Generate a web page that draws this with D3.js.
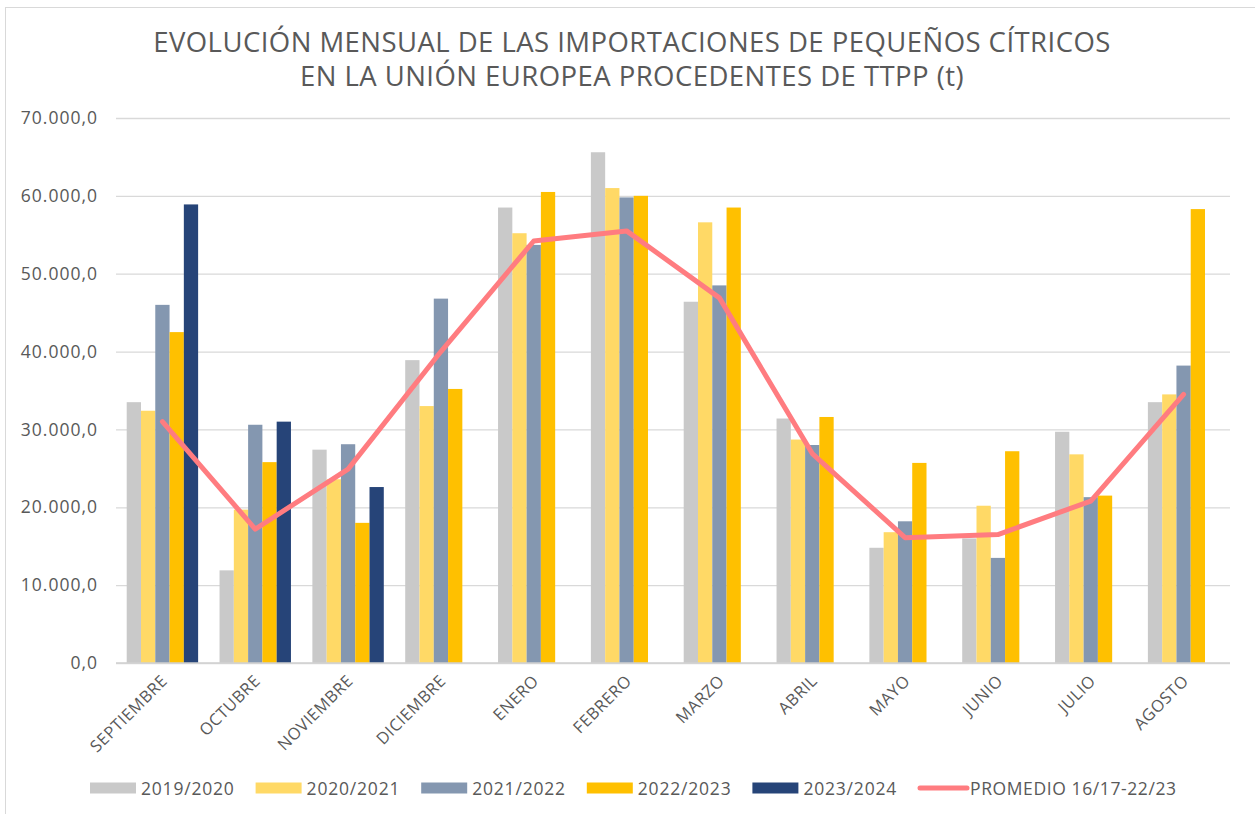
<!DOCTYPE html>
<html>
<head>
<meta charset="utf-8">
<script src="https://cdn.jsdelivr.net/npm/d3@7"></script>
<style>
  body { margin: 0; background: #fff; }
  svg text { font-family: "Open Sans", sans-serif; fill: #595959; }
</style>
</head>
<body>
<div class="canvas"></div>
<script>
// data (t)
var months = ['SEPTIEMBRE', 'OCTUBRE', 'NOVIEMBRE', 'DICIEMBRE', 'ENERO', 'FEBRERO',
  'MARZO', 'ABRIL', 'MAYO', 'JUNIO', 'JULIO', 'AGOSTO'];
var seasons = ['2019/2020', '2020/2021', '2021/2022', '2022/2023', '2023/2024'];

var v2019 = [33500, 11900, 27400, 38900, 58500, 65600, 46400, 31400, 14800, 16000, 29700, 33500];
var v2020 = [32400, 19700, 23600, 33000, 55200, 61000, 56600, 28700, 16800, 20200, 26800, 34500];
var v2021 = [46000, 30600, 28100, 46800, 53700, 59800, 48500, 28000, 18200, 13500, 21300, 38200];
var v2022 = [42500, 25800, 18000, 35200, 60500, 60000, 58500, 31600, 25700, 27200, 21500, 58300];
var v2023 = [58900, 31000, 22600, null, null, null, null, null, null, null, null, null];
var promedio = [31000, 17200, 24900, 40000, 54200, 55500, 46900, 26900, 16100, 16500, 20800, 34500];
var promedioLabel = 'PROMEDIO 16/17-22/23';

var yTicks = [0, 10000, 20000, 30000, 40000, 50000, 60000, 70000];
var colors = ['#C9C9C9', '#FFD966', '#8497B0', '#FFC000', '#264478'];
var lineColor = '#FF7C80';

var series = [v2019, v2020, v2021, v2022, v2023];

var width = 1255, height = 814;
var svg = d3.select('.canvas').append('svg')
  .attr('width', width).attr('height', height);

// chart frame (only top/left edges are inside the picture)
svg.append('rect')
  .attr('x', 5.5).attr('y', 7.5)
  .attr('width', 1260).attr('height', 820)
  .attr('fill', 'none').attr('stroke', '#D9D9D9');

// title
var title = svg.append('text')
  .attr('text-anchor', 'middle')
  .style('font-size', '27.5px')
  .style('letter-spacing', '0.45px');
title.append('tspan').attr('x', 632).attr('y', 52)
  .text('EVOLUCIÓN MENSUAL DE LAS IMPORTACIONES DE PEQUEÑOS CÍTRICOS');
title.append('tspan').attr('x', 632).attr('y', 86)
  .text('EN LA UNIÓN EUROPEA PROCEDENTES DE TTPP (t)');

// scales
var x0 = d3.scaleBand()
  .domain(months)
  .range([116, 1230])
  .paddingInner(1.5 / 6.5)
  .paddingOuter(0.75 / 6.5);

var x1 = d3.scaleBand()
  .domain(seasons)
  .range([0, x0.bandwidth()]);

var y = d3.scaleLinear()
  .domain([0, 70000])
  .range([663, 118]);

var fmt = function (d) {
  return d3.format(',.1f')(d).replace(/,/g, 'X').replace('.', ',').replace(/X/g, '.');
};

// gridlines + y labels
var yAxis = svg.append('g')
  .attr('transform', 'translate(116,0)')
  .call(d3.axisLeft(y).tickValues(yTicks).tickSize(-(1230 - 116)).tickFormat(fmt).tickPadding(18));
yAxis.select('.domain').remove();
yAxis.selectAll('.tick line').attr('stroke', '#D9D9D9').attr('stroke-width', 1.3);
yAxis.selectAll('.tick text')
  .style('font-size', '17.5px')
  .style('letter-spacing', '1px')
  .attr('fill', '#595959');

// bars
var groups = svg.append('g').selectAll('g')
  .data(months)
  .enter()
  .append('g')
  .attr('transform', function (d) { return 'translate(' + x0(d) + ',0)'; });

groups.selectAll('rect')
  .data(function (m, i) {
    return seasons.map(function (s, k) { return { s: s, k: k, v: series[k][i] }; })
      .filter(function (d) { return d.v != null; });
  })
  .enter()
  .append('rect')
  .attr('x', function (d) { return x1(d.s); })
  .attr('width', x1.bandwidth())
  .attr('y', function (d) { return y(d.v); })
  .attr('height', function (d) { return y(0) - y(d.v); })
  .attr('fill', function (d) { return colors[d.k]; });

// baseline
svg.append('line')
  .attr('x1', 116).attr('x2', 1230)
  .attr('y1', y(0)).attr('y2', y(0))
  .attr('stroke', '#D0D0D0').attr('stroke-width', 1.5);

// promedio line
var line = d3.line()
  .x(function (d, i) { return x0(months[i]) + x0.bandwidth() / 2; })
  .y(function (d) { return y(d); });

svg.append('path')
  .datum(promedio)
  .attr('d', line)
  .attr('fill', 'none')
  .attr('stroke', lineColor)
  .attr('stroke-width', 5)
  .attr('stroke-linejoin', 'round')
  .attr('stroke-linecap', 'round');

// x labels
svg.append('g').selectAll('text')
  .data(months)
  .enter()
  .append('text')
  .attr('text-anchor', 'end')
  .style('font-size', '16.5px')
  .style('letter-spacing', '0.5px')
  .attr('transform', function (d) {
    return 'translate(' + (x0(d) + x0.bandwidth() / 2 + 6) + ',682) rotate(-45)';
  })
  .text(function (d) { return d; });

// legend
var legend = svg.append('g');
var legendY = 788;
seasons.forEach(function (s, i) {
  var lx = 90 + i * 165.6;
  legend.append('rect')
    .attr('x', lx).attr('y', legendY - 5.5)
    .attr('width', 46).attr('height', 11)
    .attr('fill', colors[i]);
  legend.append('text')
    .attr('x', lx + 51).attr('y', legendY + 6.5)
    .style('font-size', '17.5px')
    .style('letter-spacing', '0.8px')
    .text(s);
});
var px = 90 + 5 * 165.6;
legend.append('line')
  .attr('x1', px + 2).attr('x2', px + 49)
  .attr('y1', legendY).attr('y2', legendY)
  .attr('stroke', lineColor).attr('stroke-width', 5)
  .attr('stroke-linecap', 'round');
legend.append('text')
  .attr('x', px + 52).attr('y', legendY + 6.5)
  .style('font-size', '17.5px')
  .style('letter-spacing', '0.6px')
  .text(promedioLabel);
</script>
</body>
</html>
